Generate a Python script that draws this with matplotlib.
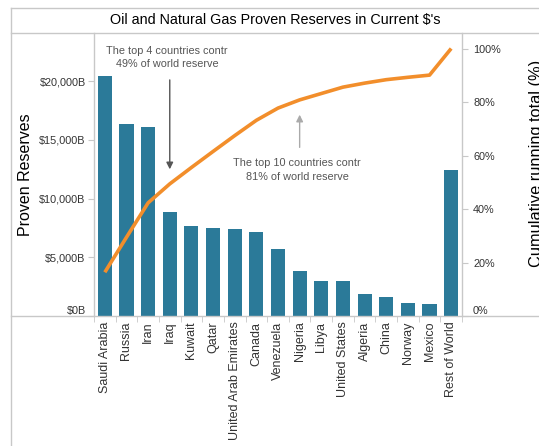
import numpy as np
import matplotlib.pyplot as plt
from matplotlib.lines import Line2D
from matplotlib.ticker import FuncFormatter

plt.rcParams['font.family'] = ['Liberation Sans', 'DejaVu Sans']

countries = ["Saudi Arabia", "Russia", "Iran", "Iraq", "Kuwait", "Qatar",
             "United Arab Emirates", "Canada", "Venezuela", "Nigeria", "Libya",
             "United States", "Algeria", "China", "Norway", "Mexico", "Rest of World"]
reserves = [20426, 16340, 16085, 8851, 7660, 7490, 7404, 7149, 5702, 3830,
            2979, 2979, 1872, 1617, 1106, 1021, 12426]  # $B

cum_pct = np.cumsum(reserves) / np.sum(reserves) * 100

bar_color = "#2b7a99"
line_color = "#f28e2b"
frame = "#c8c8c8"
txt = "#333333"

W, H = 539, 446
fig = plt.figure(figsize=(W / 100, H / 100), dpi=100)
ax = fig.add_axes([94 / W, (H - 316) / H, (462 - 94) / W, (316 - 33) / H])
ax2 = ax.twinx()

x = np.arange(len(countries))
ax.bar(x, reserves, width=0.65, color=bar_color, zorder=2)
ax.set_xlim(-0.5, len(countries) - 0.5)
ax.set_ylim(0, 24100)
ax.set_yticks([0, 5000, 10000, 15000, 20000])
ax.yaxis.set_major_formatter(FuncFormatter(lambda v, p: f"${v:,.0f}B"))
ax.set_xticks(x)
ax.set_xticklabels(countries, rotation=90, fontsize=9, color=txt)
ax.set_xticks(np.arange(-0.5, len(countries)), minor=True)
ax.tick_params(axis="x", which="major", length=0, pad=4)
ax.tick_params(axis="x", which="minor", length=4, color=frame)
ax.tick_params(axis="y", length=4, color=frame, labelsize=7.8, labelcolor=txt, pad=2)
ax.set_ylabel("Proven Reserves", fontsize=11.5, color="black")
ax.yaxis.set_label_coords(-61 / (462 - 94), 0.5)

ax2.plot(x, cum_pct, color=line_color, lw=2.6, zorder=3, solid_capstyle="butt")
ax2.set_ylim(0, 105.8)
ax2.set_yticks([0, 20, 40, 60, 80, 100])
ax2.yaxis.set_major_formatter(FuncFormatter(lambda v, p: f"{v:.0f}%"))
ax2.tick_params(axis="y", length=4, color=frame, labelsize=7.8, labelcolor=txt, pad=4)

for a in (ax, ax2):
    for s in a.spines.values():
        s.set_visible(False)

fig.canvas.draw()
ax.get_yticklabels()[0].set_va("bottom")
ax2.get_yticklabels()[0].set_va("bottom")

fig.text(537 / W, 1 - 163 / H, "Cumulative running total (%)", rotation=90,
         fontsize=11.8, ha="center", va="center")
fig.text(0.5 + 6 / W, 1 - 20 / H, "Oil and Natural Gas Proven Reserves in Current $'s",
         fontsize=10.4, ha="center", va="center")

# annotations
ax2.annotate("", xy=(3, 53.8), xytext=(3, 89.3),
             arrowprops=dict(arrowstyle="-|>", color="#555555", lw=1, mutation_scale=10))
ax2.text(2.88, 96.6, "The top 4 countries contr\n49% of world reserve", ha="center",
         va="center", fontsize=7.8, color="#555555", linespacing=1.45)
ax2.annotate("", xy=(9, 76.3), xytext=(9, 62),
             arrowprops=dict(arrowstyle="-|>", color="#aaaaaa", lw=1, mutation_scale=10))
ax2.text(8.88, 54.6, "The top 10 countries contr\n81% of world reserve", ha="center",
         va="center", fontsize=7.8, color="#555555", linespacing=1.45)

# frame lines
def hline(y, x0, x1):
    fig.add_artist(Line2D([x0 / W, x1 / W], [1 - y / H, 1 - y / H], color=frame, lw=1))

def vline(xp, y0, y1):
    fig.add_artist(Line2D([xp / W, xp / W], [1 - y0 / H, 1 - y1 / H], color=frame, lw=1))

hline(8, 11, W)
hline(33, 11, W)
hline(316, 11, W)
vline(11, 8, H)
vline(94, 33, 316)
vline(462, 33, 316)

fig.savefig("out.png", dpi=100)
